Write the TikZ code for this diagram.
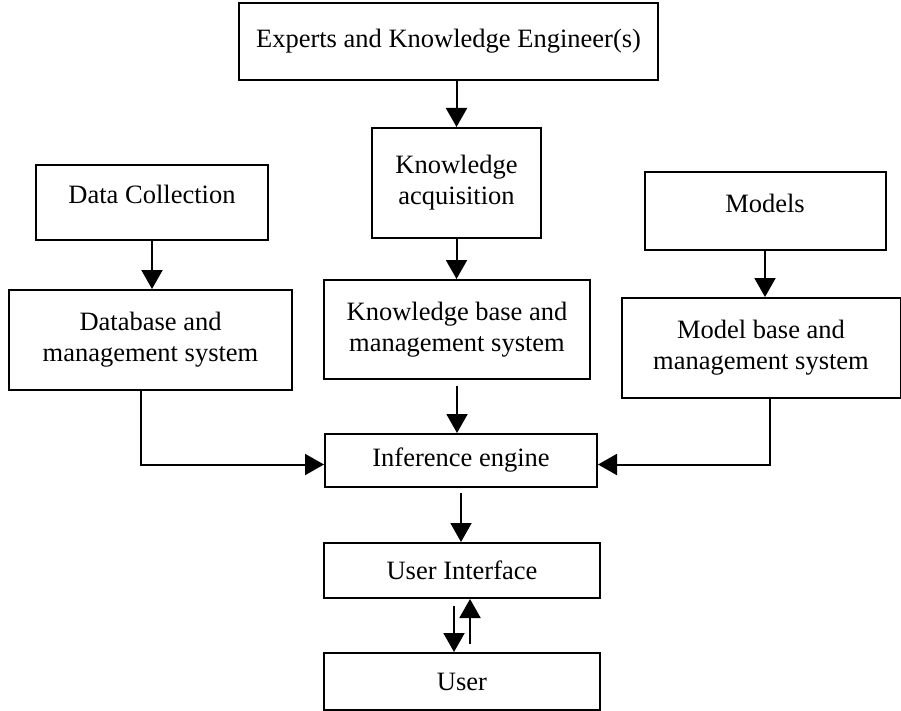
\documentclass[tikz,border=0pt]{standalone}
\usepackage{fontspec}
\setmainfont{Liberation Serif}
\usetikzlibrary{arrows.meta}

\begin{document}
\begin{tikzpicture}[x=1pt,y=-1pt,
		box/.style={draw,line width=2pt,inner sep=0pt,align=center,
			font=\fontsize{26.5}{31}\selectfont},
		raised/.style={text height=18pt,text depth=15pt},
		arr/.style={line width=2pt,-{Triangle[length=19pt,width=21pt]}}]
			\useasboundingbox (0,0) rectangle (901,711);
			\node[box,minimum width=419pt,minimum height=77pt] (experts) at (448.5,41.5) {Experts and Knowledge Engineer(s)};
			\node[box,minimum width=169pt,minimum height=110pt] (acq) at (456.5,183) {Knowledge\\acquisition};
			\node[box,raised,minimum width=232pt,minimum height=75pt] (datacol) at (152,202.5) {Data Collection};
			\node[box,raised,minimum width=241pt,minimum height=78pt] (models) at (765,211) {Models};

			\node[box,minimum width=283pt,minimum height=100pt] (dbms) at (150.5,340) {Database and\\management system};
			\node[box,minimum width=266pt,minimum height=99pt] (kbms) at (457,329.5) {Knowledge base and\\management system};
			\node[box,minimum width=279pt,minimum height=100pt] (mbms) at (761,348) {Model base and\\management system};

			\node[box,minimum width=272pt,minimum height=53pt] (infer) at (461,460.5) {Inference engine};
			\node[box,minimum width=276pt,minimum height=55pt] (ui) at (462,570.5) {User Interface};
			\node[box,minimum width=276pt,minimum height=57pt] (user) at (462,681.5) {User};

			\draw[arr] (experts.south -| acq.north) -- (acq.north);
			\draw[arr] (acq.south) -- (acq.south |- kbms.north);
			\draw[arr] (datacol.south) -- (datacol.south |- dbms.north);
			\draw[arr] (models.south) -- (models.south |- mbms.north);
			\draw[arr] ([yshift=-6pt]kbms.south) -- (kbms.south |- infer.north);
			\draw[arr] ([xshift=-10pt]dbms.south) |- ([yshift=-4pt]infer.west);
			\draw[arr] ([xshift=9pt]mbms.south) |- ([yshift=-4pt]infer.east);
			\draw[arr] ([yshift=-5pt]infer.south) -- (infer.south |- ui.north);
			\draw[arr] ([xshift=-8pt,yshift=-7pt]ui.south) -- ([xshift=-8pt]user.north);
			\draw[arr] ([xshift=8pt,yshift=8pt]user.north) -- ([xshift=8pt]ui.south);
\end{tikzpicture}
\end{document}
